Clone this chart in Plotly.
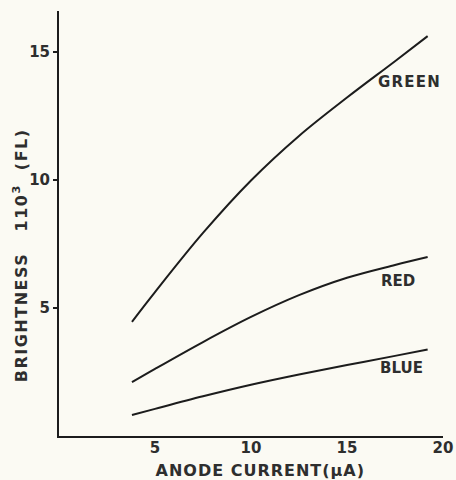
import plotly.graph_objects as go

# Anode current (µA) at which brightness was read
current = [3.8, 5, 7.5, 10, 12.5, 15, 17.5, 19.2]

# Brightness (x10^3 fL) per phosphor colour
green = [4.46, 5.62, 7.93, 9.98, 11.72, 13.22, 14.64, 15.62]
red = [2.10, 2.62, 3.67, 4.65, 5.50, 6.18, 6.68, 6.99]
blue = [0.82, 1.06, 1.55, 2.0, 2.40, 2.77, 3.13, 3.38]

series = [("GREEN", green), ("RED", red), ("BLUE", blue)]
label_pos = {"GREEN": (18.28, 13.81), "RED": (17.63, 6.05), "BLUE": (17.86, 2.64)}

x_ticks = [5, 10, 15, 20]
y_ticks = [5, 10, 15]

INK = "#1c1c1c"
TEXT = "#2e2e2e"
PAPER = "#fbfaf3"
FONT = "DejaVu Sans"

fig = go.Figure()
for name, values in series:
    fig.add_trace(go.Scatter(
        x=current, y=values, mode="lines", name=name,
        line=dict(color=INK, width=2, shape="spline", smoothing=1.0),
        showlegend=False, hoverinfo="skip",
    ))
    lx, ly = label_pos[name]
    fig.add_annotation(
        x=lx, y=ly, text=name, showarrow=False,
        font=dict(family=FONT, size=15, color=TEXT, weight="bold"),
        xanchor="center", yanchor="middle",
    )

# Axis titles
fig.add_annotation(
    x=10.47, xref="x", y=0, yref="paper", yshift=-34,
    text="ANODE CURRENT(\u03bcA)", showarrow=False,
    font=dict(family=FONT, size=16, color=TEXT, weight="bold"),
    xanchor="center", yanchor="middle",
)
fig.add_annotation(
    x=0, xref="paper", xshift=-39, y=7.03, yref="y",
    text="BRIGHTNESS\u00a0\u00a0\u00a0110<sup>3</sup>\u00a0\u00a0(FL)",
    showarrow=False, textangle=-90,
    font=dict(family=FONT, size=16, color=TEXT, weight="bold"),
    xanchor="center", yanchor="middle",
)

fig.update_xaxes(
    range=[0, 20], tickvals=x_ticks, ticktext=[str(v) for v in x_ticks],
    showline=True, linecolor=INK, linewidth=2, ticks="",
    showgrid=False, zeroline=False, automargin=False,
    ticklabelstandoff=-3,
    tickfont=dict(family=FONT, size=15, color=TEXT, weight="bold"),
)
fig.update_yaxes(
    range=[0, 16.6], tickvals=y_ticks, ticktext=[str(v) for v in y_ticks],
    showline=True, linecolor=INK, linewidth=2,
    ticks="outside", ticklen=4, tickwidth=1.5, tickcolor=INK,
    showgrid=False, zeroline=False, automargin=False,
    tickfont=dict(family=FONT, size=15, color=TEXT, weight="bold"),
)

fig.update_layout(
    width=456, height=480,
    margin=dict(l=59, r=13, t=11, b=44),
    paper_bgcolor=PAPER, plot_bgcolor=PAPER,
)

# Spaced-out lettering for the titles and the GREEN label
spacing_js = """
document.querySelectorAll('.annotation-text').forEach(function (t) {
  var s = t.textContent;
  if (s.indexOf('BRIGHTNESS') === 0) { t.style.letterSpacing = '1.5px'; }
  else if (s.indexOf('ANODE') === 0) { t.style.letterSpacing = '1px'; }
  else if (s === 'GREEN') { t.style.letterSpacing = '1.2px'; }
});
"""

fig.write_html("out.html", post_script=spacing_js)
